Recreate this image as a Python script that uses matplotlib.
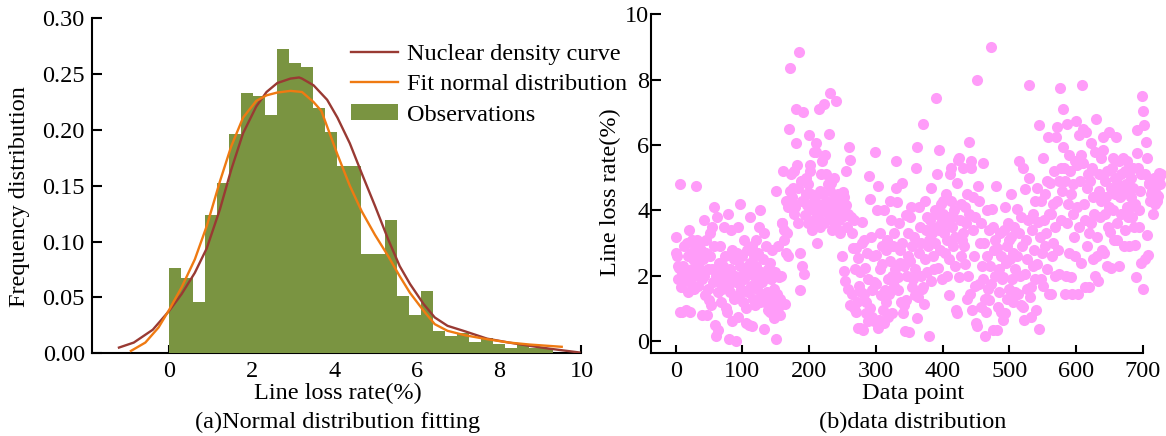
import numpy as np
import matplotlib
matplotlib.use('Agg')
import matplotlib.pyplot as plt

plt.rcParams['font.family'] = ['Liberation Serif', 'DejaVu Serif']
plt.rcParams['font.size'] = 17.5

# histogram of line loss rate (frequency per bin)
freq = [0.0766, 0.0676, 0.0459, 0.1236, 0.1525, 0.1966, 0.233, 0.230,
        0.2136, 0.2726, 0.260, 0.2568, 0.220, 0.1978, 0.168, 0.168,
        0.0885, 0.0885, 0.119, 0.051, 0.034, 0.056, 0.0197, 0.015,
        0.018, 0.0104, 0.0134, 0.0083, 0.0045, 0.0083, 0.0045, 0.0045]

# kernel density curve
kde_x = [-1.22, -0.86, -0.40, 0.0, 0.30, 0.62, 0.91, 1.23, 1.50, 1.79, 2.11,
         2.36, 2.62, 2.94, 3.15, 3.22, 3.50, 3.83, 4.08, 4.38, 4.67, 4.99,
         5.31, 5.59, 5.84, 6.17, 6.44, 6.75, 7.18, 7.71, 8.24, 8.75, 9.23, 9.95]
kde_y = [0.005, 0.0095, 0.021, 0.038, 0.053, 0.072, 0.094, 0.129, 0.164,
         0.197, 0.221, 0.234, 0.242, 0.246, 0.247, 0.246, 0.240, 0.227,
         0.211, 0.188, 0.161, 0.132, 0.102, 0.078, 0.062, 0.044, 0.032,
         0.0245, 0.0195, 0.013, 0.0095, 0.0065, 0.004, 0.0006]

# fitted distribution curve
fit_x = [-0.93, -0.58, -0.26, 0.0, 0.30, 0.62, 0.91, 1.23, 1.50, 1.79, 2.11,
         2.36, 2.62, 2.94, 3.22, 3.50, 3.69, 3.83, 4.08, 4.38, 4.67, 4.99,
         5.31, 5.59, 5.84, 6.17, 6.44, 6.75, 7.18, 7.71, 8.24, 8.75, 9.52]
fit_y = [0.002, 0.0095, 0.023, 0.039, 0.059, 0.084, 0.114, 0.154, 0.185,
         0.211, 0.226, 0.231, 0.2335, 0.235, 0.234, 0.225, 0.217, 0.203,
         0.178, 0.150, 0.127, 0.106, 0.087, 0.069, 0.054, 0.038, 0.026,
         0.020, 0.016, 0.0125, 0.0095, 0.0077, 0.0057]

# line loss rate of every data point, in order
line_loss = [
    3.2, 2.7, 2.6, 2.3, 1.9, 2.25, 0.9, 4.8, 1.65, 2.1,
    0.9, 2.3, 2.0, 2.9, 1.9, 0.95, 2.1, 3.0, 1.5, 2.6,
    3.4, 0.9, 1.8, 2.7, 2.2, 3.1, 2.5, 1.6, 2.0, 2.8,
    4.75, 2.9, 3.1, 2.4, 1.7, 2.6, 3.0, 2.2, 2.8, 1.9,
    0.8, 2.5, 3.7, 2.0, 1.4, 2.7, 3.1, 0.8, 2.2, 1.6,
    1.25, 3.3, 2.6, 1.1, 2.2, 3.5, 1.8, 4.1, 2.9, 0.5,
    0.15, 2.0, 3.8, 1.5, 0.35, 2.4, 1.8, 2.9, 1.2, 2.1,
    1.6, 2.3, 3.5, 1.9, 2.6, 1.0, 2.1, 0.9, 3.9, 1.7,
    0.07, 2.2, 1.5, 3.4, 0.6, 2.8, 1.9, 2.5, 1.3, 2.0,
    0.0, 1.8, 2.7, 0.75, 3.5, 1.4, 2.3, 4.2, 1.6, 2.0,
    2.6, 1.2, 3.1, 1.9, 2.2, 1.0, 0.55, 2.8, 1.5, 2.1,
    0.5, 2.4, 3.8, 1.7, 0.45, 2.9, 1.3, 2.0, 2.6, 1.1,
    2.3, 3.1, 1.6, 2.7, 1.9, 3.5, 1.2, 4.0, 2.1, 1.4,
    1.8, 2.5, 0.38, 3.3, 1.2, 2.0, 2.9, 1.5, 0.95, 2.2,
    1.3, 2.4, 0.9, 1.9, 0.85, 2.8, 1.1, 1.6, 0.7, 2.1,
    0.07, 4.6, 1.45, 2.9, 1.0, 1.95, 1.3, 0.8, 2.0, 3.6,
    3.6, 5.2, 3.4, 3.1, 1.15, 2.7, 4.3, 3.3, 4.1, 2.6,
    6.5, 4.6, 8.35, 5.1, 4.25, 4.4, 4.7, 3.9, 5.2, 4.1,
    7.1, 6.05, 5.4, 4.7, 3.6, 8.85, 2.7, 1.55, 4.9, 4.3,
    2.3, 7.0, 2.05, 4.3, 3.85, 4.5, 5.0, 4.15, 3.6, 4.8,
    6.3, 5.4, 5.2, 4.5, 3.4, 4.2, 4.0, 5.8, 3.7, 4.4,
    5.8, 6.05, 3.0, 3.8, 4.2, 7.1, 3.5, 4.6, 5.1, 4.0,
    5.5, 4.5, 3.6, 7.25, 5.7, 5.1, 4.3, 4.1, 3.9, 4.8,
    6.35, 4.6, 7.6, 4.85, 3.8, 3.4, 4.3, 5.0, 3.6, 4.1,
    7.35, 4.35, 3.9, 3.4, 4.5, 3.7, 4.2, 3.3, 4.0, 3.8,
    2.6, 4.55, 4.4, 2.15, 1.85, 4.15, 5.2, 3.5, 1.6, 3.9,
    5.95, 1.1, 5.55, 3.8, 3.3, 1.45, 2.85, 3.7, 1.0, 2.2,
    0.9, 2.85, 1.2, 2.55, 0.4, 1.7, 2.1, 0.4, 1.5, 3.0,
    3.65, 0.35, 1.45, 3.1, 2.25, 0.85, 1.2, 2.7, 1.9, 0.6,
    5.05, 4.35, 1.0, 3.2, 0.75, 1.55, 2.6, 0.6, 1.8, 5.8,
    2.65, 1.75, 4.0, 0.4, 4.75, 0.65, 3.3, 2.2, 1.4, 2.9,
    2.35, 0.95, 0.55, 4.0, 1.55, 2.8, 1.2, 3.1, 1.9, 0.75,
    1.45, 2.45, 4.3, 3.7, 0.85, 2.0, 2.9, 1.7, 3.3, 2.2,
    5.5, 4.7, 4.25, 1.55, 1.95, 3.6, 2.4, 2.8, 1.2, 3.0,
    4.85, 0.85, 1.1, 2.3, 0.3, 3.85, 1.25, 2.0, 2.6, 3.3,
    0.28, 2.45, 3.8, 4.1, 1.65, 2.9, 1.9, 3.2, 2.2, 1.4,
    5.3, 5.95, 0.7, 1.35, 4.1, 2.7, 3.5, 2.0, 3.0, 1.6,
    6.65, 1.65, 1.15, 4.3, 2.5, 3.4, 2.1, 3.8, 2.9, 3.1,
    0.15, 3.7, 1.85, 4.7, 3.3, 2.6, 3.5, 2.2, 4.0, 3.0,
    7.45, 5.1, 3.9, 2.25, 5.85, 3.4, 2.8, 4.2, 3.6, 1.9,
    3.9, 4.3, 3.3, 2.7, 3.6, 4.5, 3.1, 2.0, 3.8, 2.5,
    1.4, 5.1, 5.3, 4.3, 3.5, 2.9, 3.8, 4.0, 2.3, 3.2,
    0.95, 0.85, 4.85, 5.55, 1.95, 5.6, 3.7, 2.6, 4.2, 3.1,
    5.3, 3.3, 2.9, 2.35, 4.1, 3.6, 1.3, 4.5, 2.0, 3.9,
    6.1, 1.45, 5.5, 5.3, 0.95, 3.4, 4.4, 2.6, 3.8, 1.7,
    0.55, 8.0, 0.45, 4.75, 1.75, 4.3, 3.0, 1.05, 3.6, 2.3,
    5.45, 1.9, 3.0, 0.15, 1.3, 0.9, 2.6, 4.0, 1.6, 3.4,
    1.25, 2.3, 9.0, 1.75, 4.05, 3.5, 0.35, 2.8, 2.0, 3.1,
    4.75, 2.85, 0.35, 1.05, 2.2, 1.5, 3.3, 2.6, 0.9, 1.9,
    1.95, 0.65, 3.4, 0.85, 4.1, 2.4, 1.3, 2.9, 3.6, 1.6,
    3.1, 2.5, 4.5, 3.2, 1.9, 2.7, 1.2, 3.5, 2.2, 1.5,
    1.45, 4.05, 2.6, 1.45, 5.5, 3.3, 2.0, 3.8, 1.1, 2.9,
    5.3, 1.05, 0.65, 4.65, 2.05, 3.1, 2.5, 1.6, 3.7, 7.85,
    5.0, 1.35, 1.65, 0.75, 3.4, 3.9, 2.3, 2.8, 4.3, 1.9,
    0.95, 2.35, 4.7, 3.65, 0.38, 6.6, 3.2, 1.9, 4.3, 2.7,
    5.6, 1.7, 3.7, 2.9, 4.5, 3.3, 2.2, 4.9, 6.25, 3.9,
    1.45, 4.85, 1.45, 3.9, 2.6, 4.2, 3.0, 5.2, 2.0, 3.5,
    6.25, 4.3, 6.55, 2.8, 4.9, 2.05, 7.75, 3.7, 5.3, 4.6,
    5.95, 7.1, 5.3, 1.45, 4.9, 2.0, 6.65, 3.6, 4.2, 2.7,
    5.7, 5.2, 1.95, 4.5, 1.45, 3.9, 4.8, 3.2, 5.5, 2.6,
    6.75, 5.4, 4.1, 1.45, 6.3, 3.5, 4.9, 2.4, 5.7, 7.85,
    6.5, 5.45, 4.2, 1.65, 3.7, 6.4, 4.7, 2.9, 5.1, 3.3,
    1.65, 4.9, 6.05, 3.6, 5.3, 2.5, 4.4, 3.9, 5.8, 2.0,
    6.8, 2.6, 3.2, 1.85, 4.6, 5.1, 3.8, 5.6, 4.3, 2.8,
    6.25, 5.85, 2.7, 4.9, 3.9, 4.4, 2.3, 5.2, 3.5, 4.1,
    6.4, 3.35, 2.25, 4.7, 5.3, 4.0, 5.6, 3.1, 4.5, 5.0,
    6.25, 3.6, 3.1, 4.8, 2.3, 5.5, 4.4, 5.1, 3.9, 4.6,
    5.6, 4.5, 2.9, 5.2, 3.4, 4.8, 4.1, 5.5, 3.8, 4.6,
    2.9, 4.1, 5.0, 4.4, 3.8, 5.3, 4.7, 3.5, 2.95, 4.2,
    1.95, 6.45, 5.75, 5.3, 3.5, 4.0, 4.6, 2.4, 5.1, 7.5,
    7.05, 1.6, 6.6, 5.1, 2.5, 6.1, 5.6, 3.25, 2.65, 4.8,
    4.85, 4.3, 4.5, 4.3, 4.6, 3.9, 4.4, 5.0, 4.2, 4.7,
    4.5, 4.4, 4.3, 4.45, 5.0, 5.15, 4.8, 5.1,
]

bin_width = 0.291
bin_left = np.arange(len(freq)) * bin_width

fig = plt.figure(figsize=(11.66, 4.36), dpi=100)
ax1 = fig.add_axes([0.0787, 0.190, 0.420, 0.768])
ax2 = fig.add_axes([0.558, 0.190, 0.422, 0.777])

# (a) histogram with density curves
ax1.bar(bin_left, freq, width=bin_width, align='edge', color='#7a9441',
        linewidth=0, label='Observations', zorder=3)
ax1.plot(kde_x, kde_y, color='#993a33', lw=1.7, label='Nuclear density curve', zorder=4)
ax1.plot(fit_x, fit_y, color='#ef7a12', lw=1.7, label='Fit normal distribution', zorder=4)
ax1.set_xlim(-1.88, 10)
ax1.set_ylim(0, 0.30)
ax1.set_xticks(range(0, 11, 2))
ax1.set_yticks(np.arange(0, 0.31, 0.05))
ax1.yaxis.set_major_formatter(matplotlib.ticker.FormatStrFormatter('%.2f'))
ax1.tick_params(axis='y', direction='in', length=7, width=1.5, pad=5)
ax1.tick_params(axis='x', direction='in', length=6, width=1.5, pad=6)
ax1.set_xlabel('Line loss rate(%)')
ax1.xaxis.set_label_coords(0.502, -0.088)
ax1.set_ylabel('Frequency distribution')
ax1.yaxis.set_label_coords(-0.126, 0.469)
ax1.legend(loc='upper left', bbox_to_anchor=(0.529, 0.925), frameon=False,
           borderpad=0, borderaxespad=0, handletextpad=0.35,
           labelspacing=0.38, handlelength=1.95, handleheight=0.6)

# (b) scatter of data points
ax2.scatter(np.arange(len(line_loss)), line_loss, s=64, color='#ff9cf9',
            linewidths=0, clip_on=False, zorder=3)
ax2.set_xlim(-37.5, 700)
ax2.set_ylim(-0.37, 10)
ax2.set_xticks(range(0, 701, 100))
ax2.set_yticks(range(0, 11, 2))
ax2.tick_params(axis='y', direction='in', length=7, width=1.5, pad=1)
ax2.tick_params(axis='x', direction='in', length=6, width=1.5, pad=6)
ax2.set_xlabel('Data point')
ax2.xaxis.set_label_coords(0.533, -0.088)
ax2.set_ylabel('Line loss rate(%)')
ax2.yaxis.set_label_coords(-0.060, 0.474)

for ax in (ax1, ax2):
    ax.spines['top'].set_visible(False)
    ax.spines['right'].set_visible(False)
    ax.spines['left'].set_linewidth(1.5)
    ax.spines['bottom'].set_linewidth(1.5)

fig.text(0.2897, 0.032, '(a)Normal distribution fitting', ha='center', va='center')
fig.text(0.783, 0.032, '(b)data distribution', ha='center', va='center')

fig.savefig('out.png', dpi=100)
